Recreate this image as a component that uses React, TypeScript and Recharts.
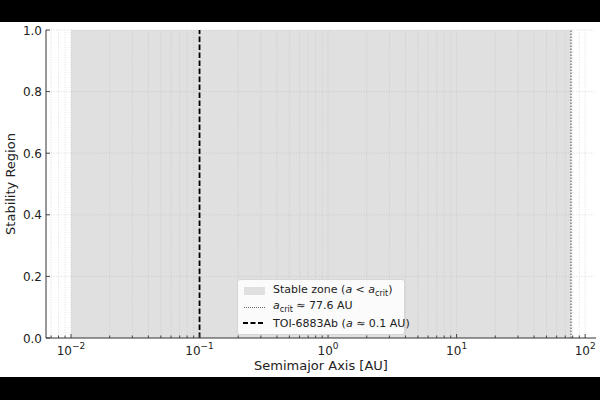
import { ComposedChart, Area, XAxis, YAxis, ReferenceLine } from 'recharts'

// values
const zoneEdges = [0.01, 77.6]
const zoneTop = [1, 1]
const aCrit = 77.6
const planetA = 0.1

const xMajor = [0.01, 0.1, 1, 10, 100]
const xExponents = ['−2', '−1', '0', '1', '2']
const minorMult = [2, 3, 4, 5, 6, 7, 8, 9]
const yTicks = [0, 0.2, 0.4, 0.6, 0.8, 1.0]

const X_DOMAIN: [number, number] = [Math.pow(10, -2.1945), Math.pow(10, 2.0844)]

const decades = [0.001, 0.01, 0.1, 1, 10, 100]
const xMinor = decades
  .flatMap((d) => minorMult.map((m) => d * m))
  .filter((v) => v >= X_DOMAIN[0] && v <= X_DOMAIN[1])

const data = zoneEdges.map((a, i) => ({ a, s: zoneTop[i] }))

const FONT = 'DejaVu Sans, sans-serif'
const GRID = '#b0b0b0'

function XTick(props: any) {
  const { x, y, payload } = props
  const idx = xMajor.findIndex((v) => Math.abs(v - payload.value) / v < 1e-6)
  const major = idx >= 0
  return (
    <g>
      <line x1={x} x2={x} y1={y} y2={y - (major ? 4 : 2.5)} stroke="#333" strokeWidth={0.9} />
      {major && (
        <text x={x} y={y + 17} textAnchor="middle" fontSize={12} fill="#222" fontFamily={FONT}>
          10
          <tspan dy={-6} fontSize={9}>
            {xExponents[idx]}
          </tspan>
        </text>
      )}
    </g>
  )
}

function YTick(props: any) {
  const { x, y, payload } = props
  return (
    <g>
      <line x1={x} x2={x + 4} y1={y} y2={y} stroke="#333" strokeWidth={0.9} />
      <text x={x - 4} y={y + 4.5} textAnchor="end" fontSize={12} fill="#222" fontFamily={FONT}>
        {payload.value.toFixed(1)}
      </text>
    </g>
  )
}

function LegendBox() {
  const row = { display: 'flex', alignItems: 'center', height: 16 } as const
  const swatch = { width: 22, marginRight: 8, display: 'flex', justifyContent: 'center' } as const
  const sub = { fontSize: 8, verticalAlign: 'sub' } as const
  return (
    <div
      style={{
        position: 'absolute',
        left: 237,
        top: 257,
        background: 'rgba(255,255,255,0.85)',
        border: '1px solid #d6d6d6',
        borderRadius: 3,
        padding: '3px 6px 3px 5px',
        fontFamily: FONT,
        fontSize: 11,
        color: '#222',
        whiteSpace: 'nowrap',
        width: 155,
      }}
    >
      <div style={row}>
        <div style={swatch}>
          <div style={{ width: 21, height: 8, background: '#e0e0e0' }} />
        </div>
        <span>
          Stable zone (<i>a</i> &lt; <i>a</i>
          <span style={sub}>crit</span>)
        </span>
      </div>
      <div style={row}>
        <div style={swatch}>
          <div style={{ width: 21, borderTop: '1.5px dotted #666' }} />
        </div>
        <span>
          <i>a</i>
          <span style={sub}>crit</span> ≈ 77.6 AU
        </span>
      </div>
      <div style={row}>
        <div style={swatch}>
          <svg width={22} height={4}>
            <line x1={0} x2={22} y1={2} y2={2} stroke="#000" strokeWidth={1.8} strokeDasharray="5 2.5" />
          </svg>
        </div>
        <span>
          TOI-6883Ab (<i>a</i> ≈ 0.1 AU)
        </span>
      </div>
    </div>
  )
}

export default function App() {
  return (
    <div style={{ position: 'fixed', left: 0, top: 0, width: 600, height: 400, background: '#000' }}>
      <div style={{ position: 'absolute', left: 0, top: 22, width: 600, height: 355, background: '#fff' }}>
        <ComposedChart width={600} height={355} data={data} margin={{ top: 8, right: 4, bottom: 0, left: 0 }}>
          <XAxis
            dataKey="a"
            type="number"
            scale="log"
            domain={X_DOMAIN}
            allowDataOverflow
            ticks={[...xMajor, ...xMinor]}
            interval={0}
            tick={<XTick />}
            tickLine={false}
            tickSize={0}
            tickMargin={0}
            height={39}
            axisLine={{ stroke: '#333', strokeWidth: 1 }}
            label={{ value: 'Semimajor Axis [AU]', position: 'insideBottom', offset: 7, fontSize: 13, fill: '#222', fontFamily: FONT }}
          />
          <YAxis
            type="number"
            domain={[0, 1]}
            ticks={yTicks}
            interval={0}
            tick={<YTick />}
            tickLine={false}
            tickSize={0}
            tickMargin={0}
            width={46}
            axisLine={{ stroke: '#333', strokeWidth: 1 }}
            label={{ value: 'Stability Region', angle: -90, position: 'insideLeft', offset: 10, style: { textAnchor: 'middle' }, fontSize: 13, fill: '#222', fontFamily: FONT }}
          />
          <Area
            type="linear"
            dataKey="s"
            stroke="none"
            fill="#e0e0e0"
            fillOpacity={1}
            baseValue={0}
            isAnimationActive={false}
            dot={false}
            activeDot={false}
          />
          {[...xMajor, ...xMinor]
            .filter((v) => v > X_DOMAIN[0] && v < X_DOMAIN[1])
            .map((v) => (
              <ReferenceLine key={'gx' + v} x={v} stroke={GRID} strokeOpacity={0.5} strokeWidth={0.8} strokeDasharray="1 1.5" />
            ))}
          {yTicks.slice(1).map((v) => (
            <ReferenceLine key={'gy' + v} y={v} stroke={GRID} strokeOpacity={0.5} strokeWidth={0.8} strokeDasharray="1 1.5" />
          ))}
          <ReferenceLine x={aCrit} stroke="#777" strokeWidth={1.4} strokeDasharray="1.5 1.5" />
          <ReferenceLine x={planetA} stroke="#000" strokeWidth={1.8} strokeDasharray="5.5 2.5" />
        </ComposedChart>
        <LegendBox />
      </div>
    </div>
  )
}
